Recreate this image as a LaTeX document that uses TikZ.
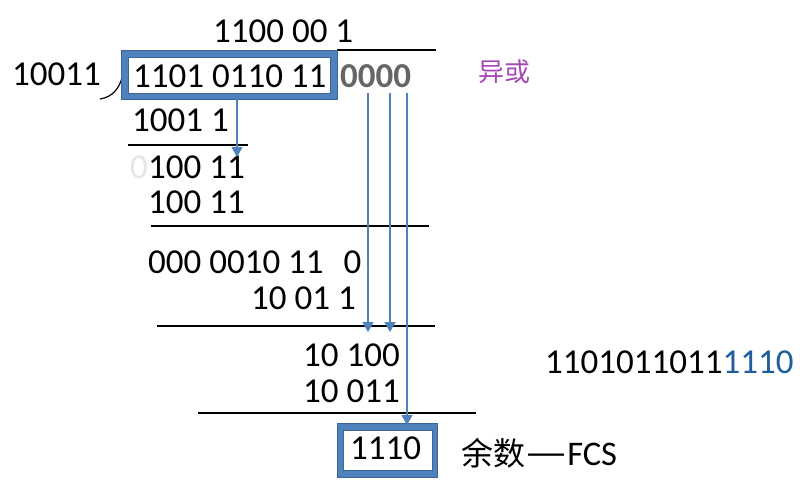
\documentclass[tikz,border=0pt]{standalone}
\usepackage{fontspec}
\usepackage{graphicx}
\setmainfont{Carlito}
\newfontfamily\cjk{Noto Sans CJK SC}
\usetikzlibrary{arrows.meta}
\definecolor{boxblue}{HTML}{4F81BD}
\definecolor{boxdark}{HTML}{3A6594}
\definecolor{xorpurple}{HTML}{A448B4}
\definecolor{fcsblue}{HTML}{1F5E9E}
\definecolor{zerogray}{HTML}{666666}
\definecolor{faintgray}{HTML}{E6E6E6}
\begin{document}
\begin{tikzpicture}[x=1pt,y=-1pt,
  num/.style={anchor=base west, inner sep=0pt, font=\fontsize{35}{40}\selectfont},
  rule/.style={line width=1.2pt, black},
  outerbox/.style={draw=boxdark, fill=boxblue, line width=1pt},
  innerbox/.style={draw=boxdark, fill=white, line width=0.8pt},
  bitarrow/.style={draw=boxblue, line width=1.2pt, -{Triangle[width=11pt,length=10pt]}},
  ]
\useasboundingbox[fill=white] (0,0) rectangle (804,488);

% quotient and division line
\node[num] (quot) at (213,42) {1100 00 1};
\draw[rule] (337,50) -- (436,50);

% divisor and bracket
\node[num] (divisor) at (12,85) {10011};
\coordinate (brA) at (100,99);
\coordinate (brB) at (122,78);
\draw[rule] (brA) .. controls (113,97) and (119,88) .. (brB);

% dividend box
\draw[outerbox] (121,50) rectangle (337,99);
\draw[innerbox] (128,57) rectangle (330,93);
\node[num] (dividend) at (133,87) {1101 0110 11};
\node[num, text=zerogray, font=\fontsize{35}{40}\selectfont\bfseries] (zeros) at (340,87) {0000};

% step 1
\node[num] (s1) at (132,131) {1001 1};
\draw[rule] (128,145) -- (248,145);
\node[num, text=faintgray] (faint) at (130,178) {0};
\node[num] (r1) at (148,178) {100 11};
\node[num] (s2) at (148,213) {100 11};
\draw[rule] (151,226) -- (429,226);

% step 2
\node[num] (r2) at (148,273) {000 0010 11\hspace{20pt}0};
\node[num] (s3) at (251,309) {10 01 1};
\draw[rule] (157,326) -- (435,326);

% step 3
\node[num] (r3) at (303,366) {10 100};
\node[num] (s4) at (303,402) {10 011};
\draw[rule] (198,413) -- (476,413);

% remainder box
\draw[outerbox] (337,423) rectangle (437,477);
\draw[innerbox] (343,430) rectangle (432,470);
\node[num] (rem) at (350,459) {1110};

% labels
\node[anchor=base west, inner sep=0pt, text=xorpurple, font=\cjk\fontsize{26}{30}\selectfont] (xor) at (478,81) {异或};
\node[anchor=base west, inner sep=0pt, font=\fontsize{34.5}{38}\selectfont] (fcs) at (461,465) {{\cjk\fontsize{32}{36}\selectfont 余数\hspace{1pt}\scalebox{1.4}[1.15]{—}}\hspace{1pt}FCS};
\node[num] (frame) at (545,373) {1101011011\textcolor{fcsblue}{1110}};

% arrows
\coordinate (a1s) at (237,99);
\coordinate (a1e) at (237,157);
\draw[bitarrow] (a1s) -- (a1e);
\coordinate (b1s) at (368,93);
\coordinate (b1e) at (368,332);
\coordinate (b2s) at (390,93);
\coordinate (b2e) at (390,332);
\coordinate (b3s) at (407,93);
\coordinate (b3e) at (407,425);
\draw[bitarrow] (b1s) -- (b1e);
\draw[bitarrow] (b2s) -- (b2e);
\draw[bitarrow] (b3s) -- (b3e);
\end{tikzpicture}
\end{document}
